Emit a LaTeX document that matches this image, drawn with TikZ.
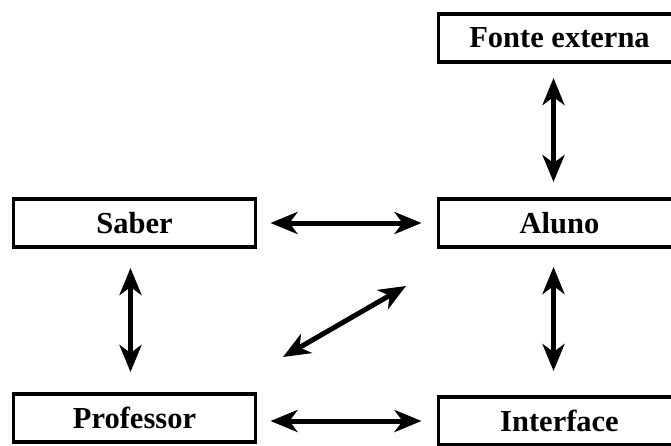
\documentclass[tikz,border=0pt]{standalone}
\usepackage{fontspec}
\setmainfont{Liberation Serif}
\usetikzlibrary{arrows.meta}

\tikzset{
  boxnode/.style={draw, line width=3.5pt, minimum width=242pt, minimum height=48pt,
    inner sep=0pt, outer sep=0pt, font=\fontsize{30.5}{32}\selectfont\bfseries},
  dblarrow/.style={line width=5pt, {Stealth[length=27pt,width=22pt,inset=8pt]}-{Stealth[length=27pt,width=22pt,inset=8pt]}}
}

\begin{document}
\begin{tikzpicture}[x=1pt,y=1pt,yscale=-1,xscale=1]
\useasboundingbox (0,0) rectangle (671,445);
\clip (0,0) rectangle (671,445);

% Boxes
\node[boxnode] (fonte) at (559.5,38) {Fonte externa};
\node[boxnode] (aluno) at (559.5,223) {Aluno};
\node[boxnode] (saber) at (134.5,223) {Saber};
\node[boxnode] (professor) at (134.5,418) {Professor};
\node[boxnode] (interface) at (559.5,421) {Interface};

% free ends of the diagonal
\coordinate (diagA) at (283,357);
\coordinate (diagB) at (406,286);

% Arrows
\draw[dblarrow, shorten <=16pt, shorten >=17pt] ([xshift=-6pt]fonte.south) -- ([xshift=-6pt]aluno.north);
\draw[dblarrow, shorten <=15pt, shorten >=17pt] (saber.east) -- (aluno.west);
\draw[dblarrow, shorten <=21pt, shorten >=22pt] ([xshift=-4pt]saber.south) -- ([xshift=-4pt]professor.north);
\draw[dblarrow, shorten <=20pt, shorten >=26pt] ([xshift=-6pt]aluno.south) -- ([xshift=-6pt]interface.north);
\draw[dblarrow, shorten <=15pt, shorten >=17pt] ([yshift=3pt]professor.east) -- ([yshift=0pt]interface.west);
\draw[dblarrow] (diagA) -- (diagB);
\end{tikzpicture}
\end{document}
